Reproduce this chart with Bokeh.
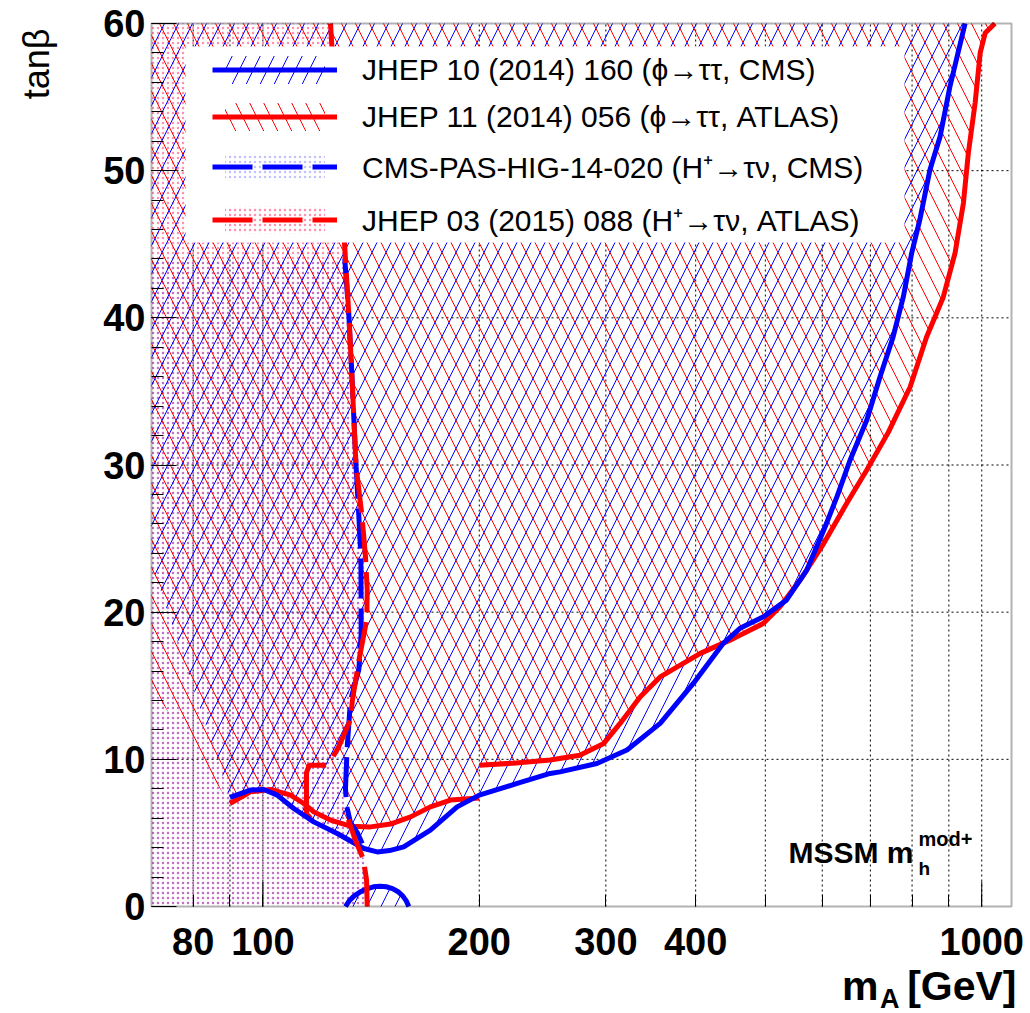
import math
from bokeh.plotting import figure
from bokeh.models import (FixedTicker, SingleIntervalTicker, Legend, LegendItem,
                          Label, BoxAnnotation)
from bokeh.embed import file_html
from bokeh.resources import INLINE

# ---------------- data ----------------
X_MIN, X_MAX = 70, 1100
Y_MIN, Y_MAX = 0, 60

# CMS phi->tautau (JHEP 10 (2014) 160): excluded above the curve
cms_tt_mA = [90, 96.1, 100.3, 104.7, 110.4, 117.7, 126.9, 138.2, 144.2, 150, 157, 171,
             186.3, 200, 225.8, 251, 259, 291.5, 321, 357, 397, 437, 461, 497, 535, 571,
             603, 629, 656, 692, 722, 753, 778, 799, 820, 847, 875, 903, 948]
cms_tt_tb = [7.41, 7.91, 7.95, 7.57, 6.66, 5.75, 4.96, 3.94, 3.71, 3.8, 4.05, 5.19,
             6.77, 7.57, 8.36, 9.04, 9.15, 9.72, 10.63, 12.44, 15.16, 17.88, 18.9, 19.69,
             20.82, 22.86, 25.58, 27.85, 30.34, 33.06, 36.0, 38.72, 41.44, 44.4, 46.65,
             50.05, 52.3, 55.7, 60.0]
cms_tt_edge_mA = [70]
cms_tt_edge_tb = [23.3]
# small excluded island at low tan(beta)
cms_tt_low_mA = [130.3, 132, 134, 136.5, 139.5, 142.5, 145.5, 148.5, 151.5, 154, 156.5, 158.3, 159.6]
cms_tt_low_tb = [0, 0.42, 0.72, 0.98, 1.2, 1.34, 1.38, 1.34, 1.22, 1.02, 0.72, 0.38, 0]

# ATLAS phi->tautau (JHEP 11 (2014) 056)
atlas_tt_lo_mA = [90, 96.1, 102.5, 109.3, 114, 117.7, 124.2, 132.4, 141.2, 150.5, 160.5, 171, 182.4, 200]
atlas_tt_lo_tb = [7.0, 7.79, 7.95, 7.57, 7.0, 6.43, 5.87, 5.46, 5.41, 5.6, 6.09, 6.77, 7.23, 7.38]
atlas_tt_hi_mA = [200, 225, 251, 276, 298, 314, 335, 357, 406, 452, 497, 524, 559, 603, 649,
                  692, 741, 795, 838, 884, 918, 943, 958, 979, 995, 1011, 1043]
atlas_tt_hi_tb = [9.6, 9.75, 9.95, 10.28, 11.08, 12.44, 14.25, 15.6, 17.2, 18.22, 19.24,
                  20.37, 22.18, 24.68, 27.4, 29.66, 32.2, 35.3, 38.7, 41.4, 44.4, 47.8,
                  51.2, 54.6, 58.0, 59.35, 60.0]
atlas_tt_notch_mA = [122.5, 116, 115, 115, 116.5]
atlas_tt_notch_tb = [9.6, 9.6, 9.1, 6.3, 6.0]
atlas_tt_hole_mA = [115, 115, 116, 125.3, 128.5, 129.5]
atlas_tt_hole_tb = [7.0, 9.1, 9.6, 9.6, 7.5, 5.6]
atlas_tt_edge_mA = [70]
atlas_tt_edge_tb = [14.9]

# CMS H+ -> tau nu (CMS-PAS-HIG-14-020): excluded left of the curve
cms_hp_mA = [130, 131.7, 132.8, 133.8, 134.8, 136, 136.9, 137, 137, 136, 132.4, 131,
             130.3, 130.8, 132.4, 135.4, 138.9]
cms_hp_tb = [44, 40.2, 36.8, 33.3, 29.9, 26.5, 23.8, 20.4, 18.5, 16.1, 14.0, 10.8,
             8.0, 6.8, 5.7, 5.0, 3.8]

# ATLAS H+ -> tau nu (JHEP 03 (2015) 088): excluded left of the curve
atlas_hp_mA = [124.2, 127, 130, 131.7, 132.8, 133.8, 134.8, 137.4, 138.9, 139.7, 139.5,
               136, 133.2, 132.4, 127.5, 125.3]
atlas_hp_tb = [60, 52, 44.8, 40.2, 36.8, 33.3, 29.9, 26.5, 23.8, 21.5, 19.5, 16.7,
               14.0, 12.7, 10.85, 10.2]
atlas_hp_lo_mA = [131.5, 134.5, 138, 139.4, 139.7]
atlas_hp_lo_tb = [5.9, 4.5, 3.2, 1.8, 0]

x_tick_vals = [80, 90, 100, 200, 300, 400, 500, 600, 700, 800, 900, 1000]
x_tick_labels = ["80", "", "100", "200", "300", "400", "", "", "", "", "", "1000"]
x_long_ticks = [100, 1000]
y_grid_vals = [10, 20, 30, 40, 50]

legend_labels = ["JHEP 10 (2014) 160 (\u03d5\u2192\u03c4\u03c4, CMS)",
                 "JHEP 11 (2014) 056 (\u03d5\u2192\u03c4\u03c4, ATLAS)",
                 "CMS-PAS-HIG-14-020 (H\u207a\u2192\u03c4\u03bd, CMS)",
                 "JHEP 03 (2015) 088 (H\u207a\u2192\u03c4\u03bd, ATLAS)"]

RED = "#ff0000"
BLUE = "#0000ff"
FONT = "Liberation Sans"

# ---------------- layout geometry (pixels) ----------------
W, H = 1030, 1013
BOX_L, BOX_R, BOX_T, BOX_B = 151, 1011, 23, 906
px_per_dec = (BOX_R - BOX_L) / (math.log10(X_MAX) - math.log10(X_MIN))
xr = (10 ** (math.log10(X_MIN) - BOX_L / px_per_dec),
      10 ** (math.log10(X_MAX) + (W - BOX_R) / px_per_dec))
px_per_unit = (BOX_B - BOX_T) / (Y_MAX - Y_MIN)
yr = (Y_MIN - (H - BOX_B) / px_per_unit, Y_MAX + BOX_T / px_per_unit)

def data_x(px):
    return 10 ** (math.log10(X_MIN) + (px - BOX_L) / px_per_dec)

def data_y(py):
    return Y_MIN + (BOX_B - py) / px_per_unit

# ---------------- polygons built from the contours ----------------
cms_tt_px = [X_MIN] + cms_tt_edge_mA + cms_tt_mA
cms_tt_py = [Y_MAX] + cms_tt_edge_tb + cms_tt_tb

atlas_tt_px = ([X_MIN] + atlas_tt_edge_mA + atlas_tt_lo_mA[:5] + atlas_tt_hole_mA
               + atlas_tt_lo_mA[7:] + atlas_tt_hi_mA)
atlas_tt_py = ([Y_MAX] + atlas_tt_edge_tb + atlas_tt_lo_tb[:5] + atlas_tt_hole_tb
               + atlas_tt_lo_tb[7:] + atlas_tt_hi_tb)

cms_hp_px = [X_MIN, X_MIN] + cms_hp_mA + [cms_hp_mA[-1]]
cms_hp_py = [Y_MIN, cms_hp_tb[0]] + cms_hp_tb + [Y_MIN]

atlas_hp_px = [X_MIN, X_MIN] + atlas_hp_mA + atlas_hp_lo_mA
atlas_hp_py = [Y_MIN, Y_MAX] + atlas_hp_tb + atlas_hp_lo_tb

# ---------------- figure ----------------
p = figure(width=W, height=H, x_axis_type="log", x_range=xr, y_range=yr,
           output_backend="svg", toolbar_location=None, min_border=0)
p.title.visible = False
p.background_fill_color = "white"
p.border_fill_color = "white"
p.outline_line_color = None
p.grid.visible = False

# axes drawn along the plot box
xa = p.xaxis[0]
xa.fixed_location = Y_MIN
xa.bounds = (X_MIN, X_MAX)
xa.ticker = FixedTicker(ticks=x_tick_vals, minor_ticks=[])
xa.major_label_overrides = {v: s for v, s in zip(x_tick_vals, x_tick_labels)}
ya = p.yaxis[0]
ya.fixed_location = X_MIN
ya.bounds = (Y_MIN, Y_MAX)
ya.ticker = SingleIntervalTicker(interval=10, num_minor_ticks=5)
for ax in (xa, ya):
    ax.axis_line_color = None
    ax.major_tick_out = 0
    ax.minor_tick_out = 0
    ax.major_tick_line_color = "black"
    ax.minor_tick_line_color = "black"
    ax.major_tick_line_width = 1
    ax.minor_tick_line_width = 1
    ax.major_label_text_font = FONT
    ax.major_label_text_font_style = "bold"
    ax.major_label_text_font_size = "38px"
    ax.major_label_text_color = "black"
xa.major_tick_in = 12
xa.major_label_standoff = 21
ya.major_tick_in = 25
ya.minor_tick_in = 12
ya.major_label_standoff = 6

# dotted grid inside the plot box
p.segment(x0=x_tick_vals, x1=x_tick_vals, y0=[Y_MIN] * len(x_tick_vals),
          y1=[Y_MAX] * len(x_tick_vals), line_color="black", line_width=1,
          line_dash="2 3", level="underlay")
p.segment(x0=[X_MIN] * len(y_grid_vals), x1=[X_MAX] * len(y_grid_vals),
          y0=y_grid_vals, y1=y_grid_vals, line_color="black", line_width=1,
          line_dash="2 3", level="underlay")

# hatched / dotted exclusion regions
HATCH = 28
r_atlas_hp = p.patch(atlas_hp_px, atlas_hp_py, fill_color=None, line_color=None,
                     hatch_pattern=".", hatch_color="#ff2060", hatch_alpha=0.5,
                     hatch_scale=5, hatch_weight=1)
r_cms_hp = p.patch(cms_hp_px, cms_hp_py, fill_color=None, line_color=None,
                   hatch_pattern=".", hatch_color="#2020ff", hatch_alpha=0.28,
                   hatch_scale=5, hatch_weight=1)
r_atlas_tt = p.patch(atlas_tt_px, atlas_tt_py, fill_color=None, line_color=None,
                     hatch_pattern="\\", hatch_color=RED, hatch_scale=HATCH, hatch_weight=1)
r_cms_tt = p.patches([cms_tt_px, cms_tt_low_mA], [cms_tt_py, cms_tt_low_tb],
                     fill_color=None, line_color=None,
                     hatch_pattern="/", hatch_color=BLUE, hatch_scale=HATCH, hatch_weight=1)

# longer ticks at the decades
tick_len = 25 / px_per_unit
p.segment(x0=x_long_ticks, x1=x_long_ticks, y0=[Y_MIN] * len(x_long_ticks),
          y1=[Y_MIN + tick_len] * len(x_long_ticks), line_color="black", line_width=1)

# contour lines
l_atlas_tt = p.multi_line([atlas_tt_lo_mA, atlas_tt_notch_mA, atlas_tt_hi_mA],
                          [atlas_tt_lo_tb, atlas_tt_notch_tb, atlas_tt_hi_tb],
                          line_color=RED, line_width=5)
l_cms_tt = p.multi_line([cms_tt_mA, cms_tt_low_mA], [cms_tt_tb, cms_tt_low_tb],
                        line_color=BLUE, line_width=5)
l_cms_hp = p.line(cms_hp_mA, cms_hp_tb, line_color=BLUE, line_width=5, line_dash="40 10")
l_atlas_hp = p.multi_line([atlas_hp_mA, atlas_hp_lo_mA], [atlas_hp_tb, atlas_hp_lo_tb],
                          line_color=RED, line_width=5, line_dash="40 10")

# plot box frame
p.add_layout(BoxAnnotation(left=X_MIN, right=X_MAX, bottom=Y_MIN, top=Y_MAX,
                           fill_alpha=0, line_color="black", line_width=2))

# legend background box
p.add_layout(BoxAnnotation(left=data_x(185), right=data_x(904),
                           bottom=data_y(242), top=data_y(46),
                           fill_color="white", fill_alpha=1.0, line_color=None))

legend = Legend(items=[
    LegendItem(label=legend_labels[0], renderers=[r_cms_tt, l_cms_tt]),
    LegendItem(label=legend_labels[1], renderers=[r_atlas_tt, l_atlas_tt]),
    LegendItem(label=legend_labels[2], renderers=[r_cms_hp, l_cms_hp]),
    LegendItem(label=legend_labels[3], renderers=[r_atlas_hp, l_atlas_hp]),
], location=(212, H - 240), glyph_width=125, glyph_height=35, label_height=35,
    spacing=12, padding=0, margin=0, label_standoff=25,
    label_text_font=FONT, label_text_font_size="30px", label_text_color="black",
    background_fill_alpha=0, border_line_alpha=0)
p.add_layout(legend, "center")

# texts (canvas pixels, y measured from the bottom); py is the wanted baseline
def label(px, py, text, size, bold=True, align="left", angle=0.0, baseline="alphabetic"):
    fs = float(size.replace("px", ""))
    shift = 0.35 * fs if baseline == "alphabetic" else 0.0
    p.add_layout(Label(x=px, y=H - (py - shift), x_units="screen", y_units="screen",
                       text=text, angle=angle, text_align=align, text_baseline=baseline,
                       text_font=FONT, text_font_size=size,
                       text_font_style="bold" if bold else "normal",
                       text_color="black"))

label(36, 28, "tan\u03b2", "36px", bold=False, align="right", angle=math.pi / 2,
      baseline="middle")
label(1016, 1000, "[GeV]", "41px", align="right")
label(899, 1008, "A", "27px", align="right")
label(878, 1000, "m", "41px", align="right")
label(788, 862, "MSSM m", "30px")
label(918, 875, "h", "19px")
label(918, 845, "mod+", "20px")

open("out.html", "w").write(file_html(p, INLINE))
